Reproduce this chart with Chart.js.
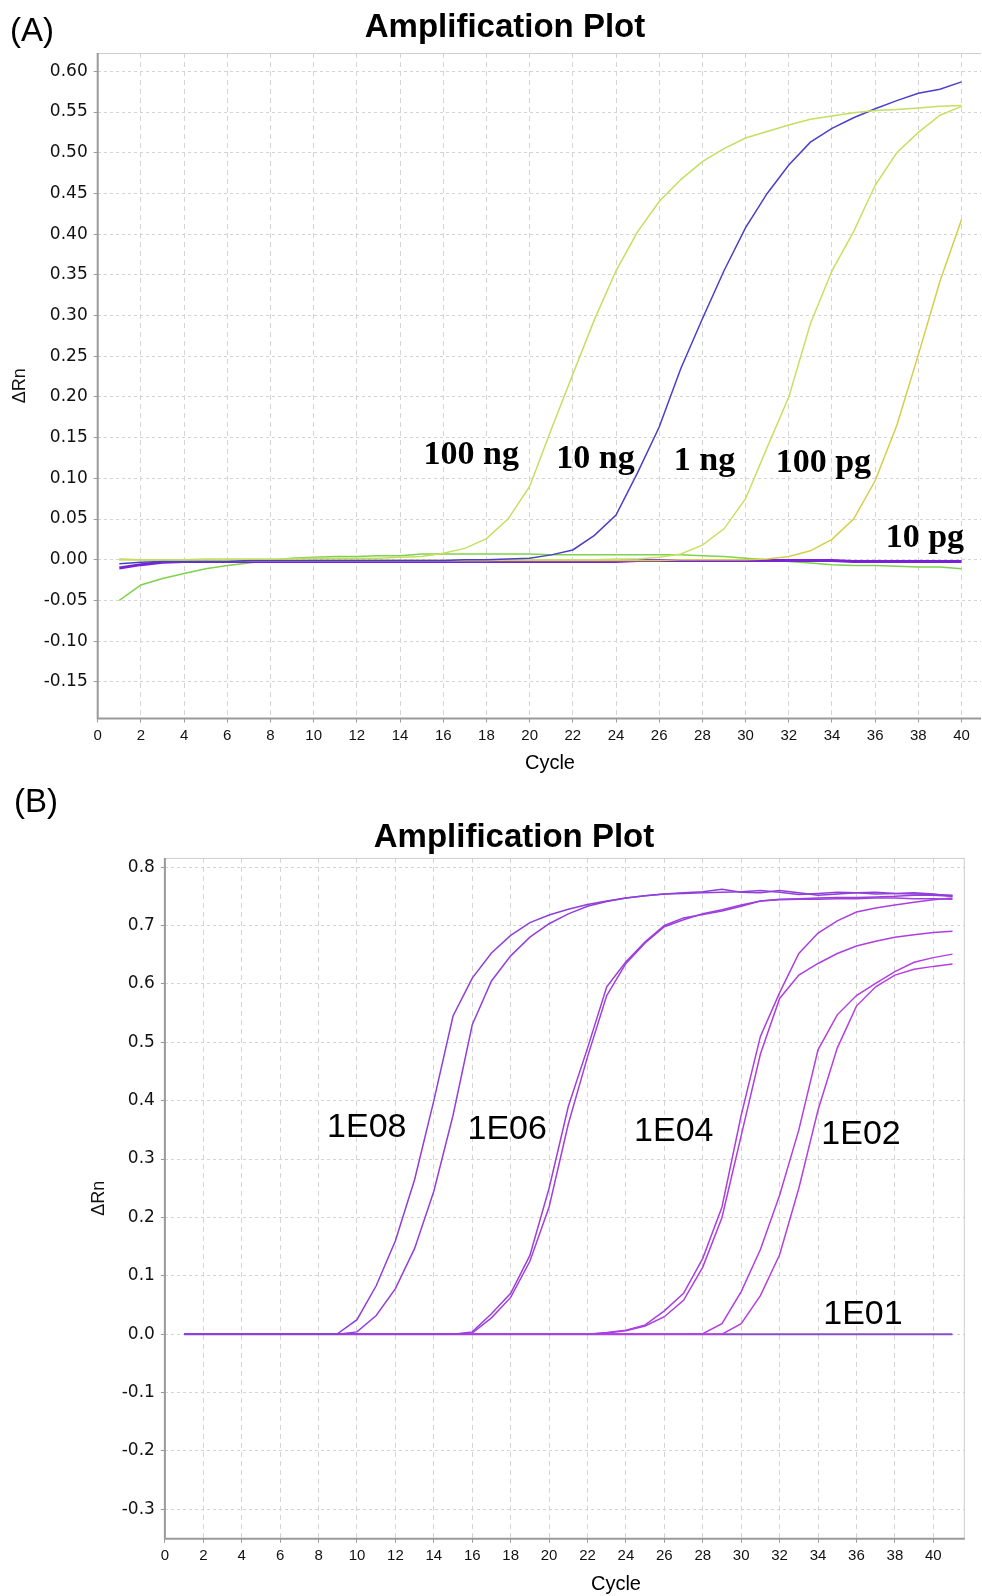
<!DOCTYPE html>
<html>
<head>
<meta charset="utf-8">
<title>Amplification Plot</title>
<script src="https://cdn.jsdelivr.net/npm/chart.js@4.4.1/dist/chart.umd.min.js"></script>
<style>
  body { margin: 0; background: #fff; }
  #page { position: relative; width: 982px; height: 1596px; overflow: hidden; font-family: "Liberation Sans", Arial, sans-serif; color: #000; }
  .txt { position: absolute; white-space: nowrap; line-height: 1; }
  canvas { position: absolute; left: 0; }
</style>
</head>
<body>
<div id="page">
  <canvas id="chartA" width="982" height="790" style="top:0"></canvas>
  <canvas id="chartB" width="982" height="806" style="top:790px"></canvas>

  <div class="txt" style="left:10px;top:12.8px;font-size:33px">(A)</div>
  <div class="txt" style="left:205px;width:600px;text-align:center;top:8.7px;font-size:33px;font-weight:bold">Amplification Plot</div>
  <div class="txt" style="left:450px;width:200px;text-align:center;top:751.5px;font-size:20px">Cycle</div>

  <div class="txt" style="left:14px;top:784px;font-size:33px">(B)</div>
  <div class="txt" style="left:214px;width:600px;text-align:center;top:818.8px;font-size:33px;font-weight:bold">Amplification Plot</div>
  <div class="txt" style="left:516px;width:200px;text-align:center;top:1572.7px;font-size:20px">Cycle</div>
</div>

<script>
// ---- Panel A: cycles and ΔRn per sample ----
const cyclesA = [1, 2, 3, 4, 5, 6, 7, 8, 9, 10, 11, 12, 13, 14, 15, 16, 17, 18, 19, 20,
  21, 22, 23, 24, 25, 26, 27, 28, 29, 30, 31, 32, 33, 34, 35, 36, 37, 38, 39, 40];

const ng100 = [0.000, 0.000, 0.000, 0.000, 0.001, 0.001, 0.001, 0.001, 0.001, 0.002,
  0.002, 0.002, 0.002, 0.003, 0.004, 0.008, 0.014, 0.026, 0.050, 0.090,
  0.160, 0.228, 0.295, 0.355, 0.403, 0.440, 0.467, 0.489, 0.505, 0.518,
  0.526, 0.534, 0.541, 0.545, 0.549, 0.552, 0.553, 0.555, 0.557, 0.558];

const ng10 = [-0.005, -0.003, -0.002, -0.002, -0.002, -0.002, -0.001, -0.001, -0.001, -0.001,
  -0.001, -0.001, -0.001, -0.001, -0.001, -0.001, 0.000, 0.000, 0.001, 0.002,
  0.006, 0.012, 0.030, 0.055, 0.107, 0.163, 0.235, 0.296, 0.355, 0.408,
  0.450, 0.485, 0.513, 0.530, 0.543, 0.554, 0.564, 0.573, 0.578, 0.587];

const ng1 = [0.000, 0.000, -0.001, -0.001, -0.001, -0.001, -0.001, -0.001, -0.001, -0.001,
  -0.001, -0.001, -0.001, -0.001, -0.001, -0.001, -0.001, -0.001, 0.000, 0.000,
  0.000, 0.000, 0.000, 0.001, 0.001, 0.003, 0.007, 0.018, 0.038, 0.075,
  0.138, 0.200, 0.290, 0.355, 0.403, 0.460, 0.500, 0.525, 0.546, 0.557];

const pg100 = [0.001, 0.000, 0.000, -0.001, -0.001, -0.001, -0.001, -0.001, -0.001, -0.001,
  -0.001, -0.001, -0.001, -0.001, -0.001, -0.001, -0.001, -0.001, -0.001, -0.001,
  -0.001, -0.001, -0.001, -0.001, -0.001, -0.001, 0.000, 0.000, 0.000, 0.000,
  0.001, 0.004, 0.011, 0.025, 0.050, 0.097, 0.165, 0.252, 0.342, 0.418];

const pg10 = [-0.010, -0.006, -0.003, -0.002, -0.002, -0.002, -0.002, -0.002, -0.002, -0.002,
  -0.002, -0.002, -0.002, -0.002, -0.002, -0.002, -0.002, -0.002, -0.002, -0.002,
  -0.002, -0.002, -0.002, -0.002, -0.001, -0.001, -0.001, -0.001, -0.001, -0.001,
  -0.001, -0.001, -0.001, -0.001, -0.002, -0.002, -0.002, -0.002, -0.002, -0.002];

const ntcA = [-0.050, -0.031, -0.023, -0.017, -0.011, -0.007, -0.004, -0.001, 0.002, 0.003,
  0.004, 0.004, 0.005, 0.005, 0.007, 0.007, 0.007, 0.007, 0.007, 0.007,
  0.006, 0.006, 0.006, 0.006, 0.006, 0.006, 0.006, 0.005, 0.004, 0.002,
  0.000, -0.002, -0.004, -0.006, -0.007, -0.007, -0.008, -0.009, -0.009, -0.011];

const tagsA = ["100 ng", "10 ng", "1 ng", "100 pg", "10 pg"];
const tagCycleA = [17.3, 23.05, 28.1, 33.6, 38.3];
const tagValueA = [0.129, 0.124, 0.121, 0.119, 0.026];

// ---- Panel B: cycles and ΔRn per dilution (duplicates) ----
const cyclesB = [1, 2, 3, 4, 5, 6, 7, 8, 9, 10, 11, 12, 13, 14, 15, 16, 17, 18, 19, 20,
  21, 22, 23, 24, 25, 26, 27, 28, 29, 30, 31, 32, 33, 34, 35, 36, 37, 38, 39, 40, 41];

const e08a = [0, 0, 0, 0, 0, 0, 0, 0, 0.001, 0.025,
  0.083, 0.160, 0.265, 0.400, 0.545, 0.610, 0.653, 0.683, 0.705, 0.718,
  0.728, 0.736, 0.742, 0.747, 0.751, 0.754, 0.756, 0.758, 0.762, 0.757,
  0.756, 0.760, 0.756, 0.752, 0.754, 0.756, 0.757, 0.755, 0.754, 0.753, 0.752];
const e08b = [0, 0, 0, 0, 0, 0, 0, 0, 0, 0.004,
  0.032, 0.078, 0.147, 0.245, 0.375, 0.530, 0.605, 0.648, 0.680, 0.703,
  0.720, 0.733, 0.741, 0.747, 0.751, 0.754, 0.755, 0.756, 0.757, 0.758,
  0.760, 0.757, 0.753, 0.755, 0.757, 0.756, 0.754, 0.755, 0.756, 0.754, 0.750];
const e06a = [0, 0, 0, 0, 0, 0, 0, 0, 0, 0,
  0, 0, 0, 0, 0, 0.004, 0.035, 0.070, 0.135, 0.250,
  0.390, 0.490, 0.595, 0.638, 0.672, 0.700, 0.713, 0.719, 0.725, 0.733,
  0.742, 0.745, 0.746, 0.747, 0.748, 0.748, 0.749, 0.750, 0.752, 0.752, 0.750];
const e06b = [0, 0, 0, 0, 0, 0, 0, 0, 0, 0,
  0, 0, 0, 0, 0, 0.002, 0.028, 0.063, 0.125, 0.218,
  0.360, 0.475, 0.580, 0.635, 0.670, 0.698, 0.710, 0.720, 0.727, 0.735,
  0.742, 0.744, 0.745, 0.745, 0.746, 0.746, 0.747, 0.747, 0.746, 0.746, 0.745];
const e04a = [0, 0, 0, 0, 0, 0, 0, 0, 0, 0,
  0, 0, 0, 0, 0, 0, 0, 0, 0, 0,
  0, 0, 0.003, 0.007, 0.016, 0.040, 0.070, 0.130, 0.218, 0.375,
  0.510, 0.585, 0.652, 0.687, 0.708, 0.723, 0.730, 0.735, 0.740, 0.744, 0.747];
const e04b = [0, 0, 0, 0, 0, 0, 0, 0, 0, 0,
  0, 0, 0, 0, 0, 0, 0, 0, 0, 0,
  0, 0, 0.002, 0.006, 0.014, 0.030, 0.058, 0.115, 0.200, 0.340,
  0.480, 0.575, 0.615, 0.635, 0.652, 0.665, 0.673, 0.680, 0.684, 0.688, 0.690];
const e02a = [0, 0, 0, 0, 0, 0, 0, 0, 0, 0,
  0, 0, 0, 0, 0, 0, 0, 0, 0, 0,
  0, 0, 0, 0, 0, 0, 0, 0.001, 0.018, 0.073,
  0.145, 0.238, 0.350, 0.487, 0.547, 0.580, 0.601, 0.621, 0.637, 0.645, 0.651];
const e02b = [0, 0, 0, 0, 0, 0, 0, 0, 0, 0,
  0, 0, 0, 0, 0, 0, 0, 0, 0, 0,
  0, 0, 0, 0, 0, 0, 0, 0, 0, 0.018,
  0.066, 0.136, 0.250, 0.384, 0.490, 0.562, 0.595, 0.615, 0.625, 0.630, 0.634];
const e01 = [0, 0, 0, 0, 0, 0, 0, 0, 0, 0,
  0, 0, 0, 0, 0, 0, 0, 0, 0, 0,
  0, 0, 0, 0, 0, 0, 0, 0, 0, 0,
  0, 0, 0, 0, 0, 0, 0, 0, 0, 0, 0];

const tagsB = ["1E08", "1E06", "1E04", "1E02", "1E01"];
const tagCycleB = [10.51, 17.82, 26.49, 36.24, 36.34];
const tagValueB = [0.354, 0.350, 0.347, 0.342, 0.033];

const yTicksFont = "DejaVu Sans";
const xTicksFont = '"Liberation Sans Narrow", "Liberation Sans", sans-serif';

function series(label, xs, ys, color, width) {
  return {
    label: label,
    data: xs.map((x, i) => ({ x: x, y: ys[i] })),
    borderColor: color,
    borderWidth: width || 1.5,
    pointRadius: 0,
    tension: 0,
    fill: false,
  };
}

// light top/right frame plus the grey left/bottom axis lines
function framePlugin(showRight) {
  return {
    id: "frame",
    afterDraw(chart) {
      const { ctx, chartArea: a } = chart;
      ctx.save();
      ctx.lineWidth = 1;
      ctx.strokeStyle = "#cdcdcd";
      ctx.beginPath();
      ctx.moveTo(a.left, a.top + 0.5);
      ctx.lineTo(a.right, a.top + 0.5);
      if (showRight) {
        ctx.moveTo(a.right - 0.5, a.top);
        ctx.lineTo(a.right - 0.5, a.bottom);
      }
      ctx.stroke();
      ctx.lineWidth = 2;
      ctx.strokeStyle = "#9a9a9a";
      ctx.beginPath();
      ctx.moveTo(a.left, a.top);
      ctx.lineTo(a.left, a.bottom);
      ctx.lineTo(a.right, a.bottom);
      ctx.stroke();
      ctx.restore();
    },
  };
}

// sample labels placed at data coordinates
function tagPlugin(texts, cycles, values, font) {
  return {
    id: "tags",
    afterDatasetsDraw(chart) {
      const { ctx, scales } = chart;
      ctx.save();
      ctx.font = font;
      ctx.fillStyle = "#000";
      ctx.textAlign = "center";
      ctx.textBaseline = "middle";
      texts.forEach((t, i) => {
        ctx.fillText(t, scales.x.getPixelForValue(cycles[i]), scales.y.getPixelForValue(values[i]));
      });
      ctx.restore();
    },
  };
}

function makeScales(o) {
  return {
    x: {
      type: "linear",
      min: 0,
      max: o.xMax,
      ticks: {
        stepSize: 2, includeBounds: false, autoSkip: false, maxRotation: 0,
        color: "#111", padding: 4, font: { family: xTicksFont, size: 15 },
      },
      grid: { color: "#d4d4d4", tickLength: 4, tickColor: "#9a9a9a" },
      border: { display: false, dash: [5, 4] },
      afterFit: (s) => { s.height = o.xHeight; },
    },
    y: {
      min: o.yMin,
      max: o.yMax,
      ticks: {
        stepSize: o.yStep, includeBounds: false, color: "#111", padding: 6,
        font: { family: yTicksFont, size: 17 },
        callback: (v) => v.toFixed(o.decimals),
      },
      grid: { color: "#d4d4d4", tickLength: 4, tickColor: "#9a9a9a" },
      border: { display: false, dash: [3, 3] },
      title: {
        display: true, text: "ΔRn", color: "#111",
        font: { family: "Liberation Sans", size: 18 },
        padding: { top: o.titlePad, bottom: 0 },
      },
      afterFit: (s) => { s.width = o.yWidth; },
    },
  };
}

const common = {
  responsive: false,
  animation: false,
  devicePixelRatio: 1,
  plugins: { legend: { display: false }, tooltip: { enabled: false } },
};

new Chart(document.getElementById("chartA"), {
  type: "line",
  data: {
    datasets: [
      series("100 ng", cyclesA, ng100, "#c4df60"),
      series("10 ng", cyclesA, ng10, "#4a3fc8"),
      series("1 ng", cyclesA, ng1, "#c8e062"),
      series("100 pg", cyclesA, pg100, "#d3cf48"),
      series("10 pg", cyclesA, pg10, "#7a22d8", 3),
      series("NTC", cyclesA, ntcA, "#7dd34b"),
    ],
  },
  options: Object.assign({}, common, {
    layout: { padding: { top: 53, left: 0, right: 1, bottom: 0 } },
    scales: makeScales({
      xMax: 40.9, xHeight: 71.5,
      yMin: -0.195, yMax: 0.6225, yStep: 0.05, decimals: 2,
      yWidth: 97.7, titlePad: 9.6,
    }),
  }),
  plugins: [framePlugin(false), tagPlugin(tagsA, tagCycleA, tagValueA, 'bold 34px "Liberation Serif", serif')],
});

new Chart(document.getElementById("chartB"), {
  type: "line",
  data: {
    datasets: [
      series("1E08 a", cyclesB, e08a, "#8e3fd9"),
      series("1E08 b", cyclesB, e08b, "#9340da"),
      series("1E06 a", cyclesB, e06a, "#9b3fdd"),
      series("1E06 b", cyclesB, e06b, "#a040de"),
      series("1E04 a", cyclesB, e04a, "#aa40e0"),
      series("1E04 b", cyclesB, e04b, "#ad3fe0"),
      series("1E02 a", cyclesB, e02a, "#b23fe0"),
      series("1E02 b", cyclesB, e02b, "#b540e2"),
      series("1E01", cyclesB, e01, "#8a4cc8", 2),
    ],
  },
  options: Object.assign({}, common, {
    layout: { padding: { top: 67.9, left: 0, right: 17.2, bottom: 0 } },
    scales: makeScales({
      xMax: 41.64, xHeight: 57.2,
      yMin: -0.3504, yMax: 0.8158, yStep: 0.1, decimals: 1,
      yWidth: 164.9, titlePad: 87.9,
    }),
  }),
  plugins: [framePlugin(true), tagPlugin(tagsB, tagCycleB, tagValueB, '34px "Liberation Sans", sans-serif')],
});
</script>
</body>
</html>
